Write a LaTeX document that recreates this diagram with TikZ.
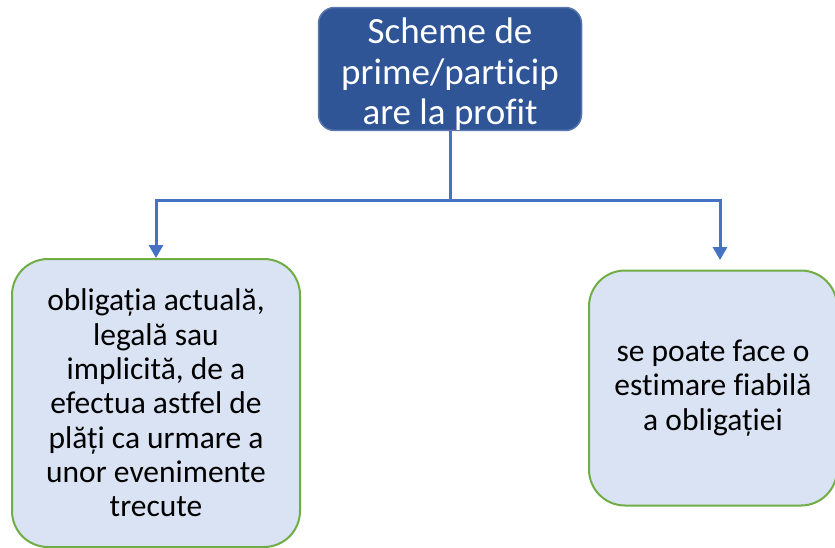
\documentclass[tikz,border=0pt]{standalone}
\usepackage{fontspec}
\setmainfont{Carlito}[Ligatures=CommonOff]
\usetikzlibrary{arrows.meta}
\definecolor{topblue}{HTML}{2F5597}
\definecolor{lineblue}{HTML}{4472C4}
\definecolor{boxfill}{HTML}{DAE3F3}
\definecolor{boxgreen}{HTML}{70AD47}

\begin{document}
\begin{tikzpicture}[x=1pt,y=-1pt]
\tikzstyle{every node}+=[inner sep=0pt]
\tikzstyle{headbox}=[fill=topblue, draw=topblue!80!white, line width=1.5pt, rounded corners=16pt, text=white, align=center, font=\fontsize{37}{40.5}\selectfont]
\tikzstyle{leafbox}=[fill=boxfill, draw=boxgreen, line width=2pt, rounded corners=36pt, align=center, font=\fontsize{31.5}{34.3}\selectfont]
\tikzstyle{conn}=[lineblue, line width=3pt]
\useasboundingbox (0,0) rectangle (835,547);
\node [headbox, minimum width=263pt, minimum height=121pt] (head) at (450,69) {\rule{0pt}{36pt}Scheme de\\prime/particip\\are la profit};
\node [leafbox, minimum width=288pt, minimum height=288pt] (left) at (156,403) {obligația actuală,\\legală sau\\implicită, de a\\efectua astfel de\\plăți ca urmare a\\unor evenimente\\trecute};
\node [leafbox, minimum width=248pt, minimum height=235pt] (right) at (713,388) {se poate face o\\estimare fiabilă\\a obligației};
\coordinate (split) at (450,200);
\coordinate (rtip) at (720,260);
\draw [conn] (head.south) -- (split);
\draw [conn, -{Triangle[width=14pt,length=13pt]}] (split) -| (left.north);
\draw [conn, -{Triangle[width=14pt,length=13pt]}] (split) -| (rtip);
\end{tikzpicture}
\end{document}
